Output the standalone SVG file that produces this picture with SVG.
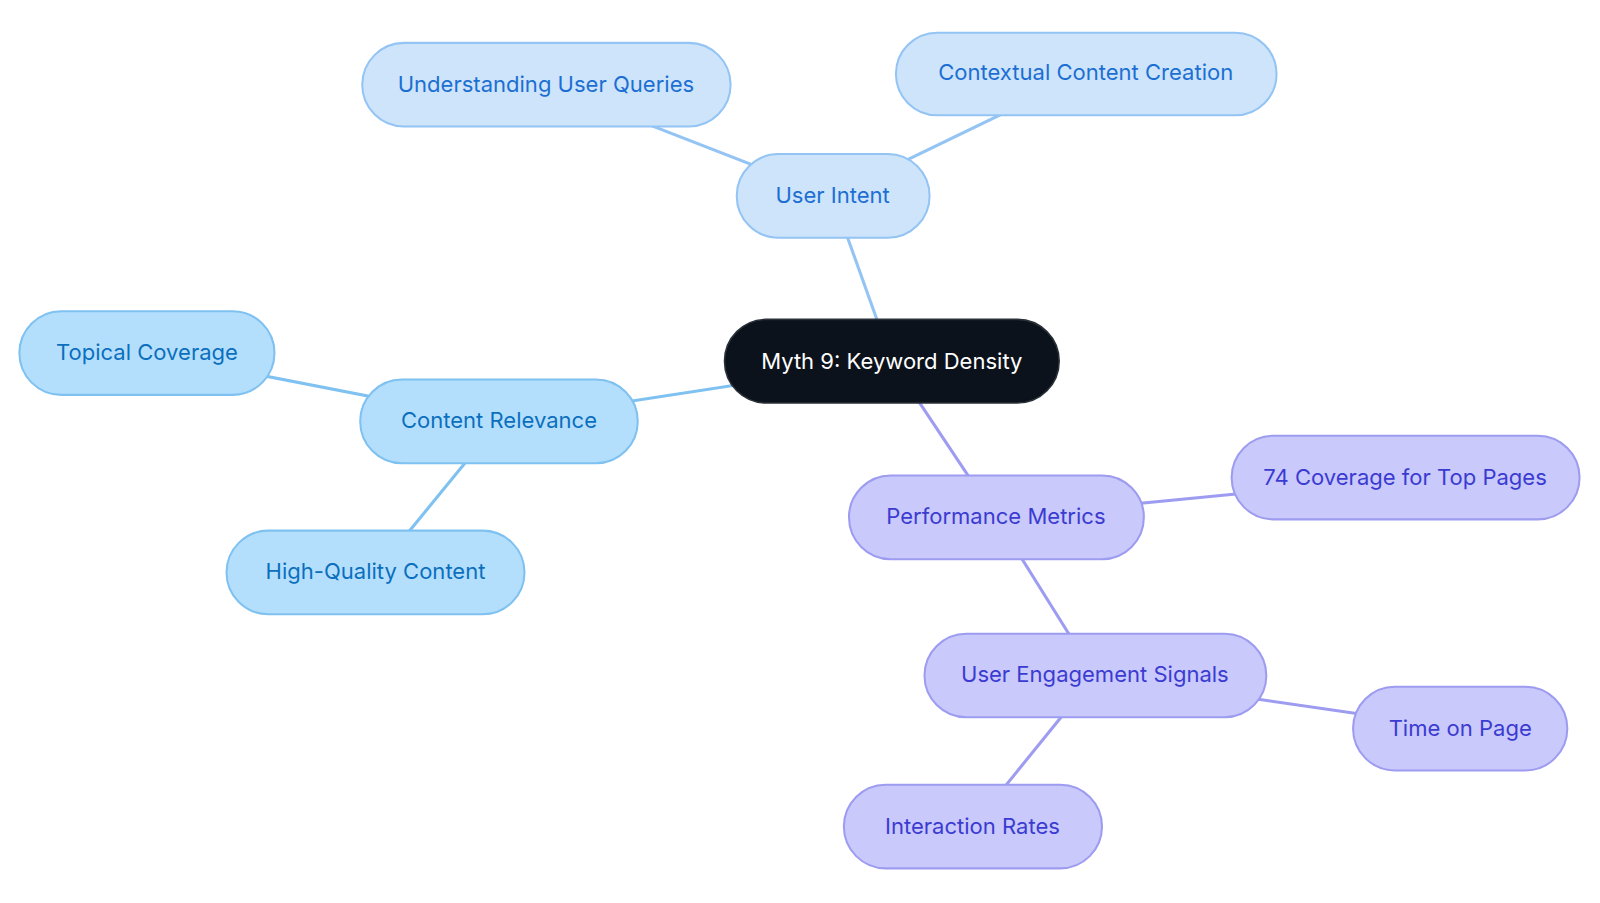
<svg xmlns="http://www.w3.org/2000/svg" width="1600" height="903" viewBox="0 0 1600 903">
<style>
text{font-family:Inter,"Noto Sans","Liberation Sans",sans-serif;font-size:21.6px;text-anchor:middle;dominant-baseline:central}
.a rect{fill:#cde4fb;stroke:#93c4f4;stroke-width:2}
.a text{fill:#1c6fd2}
.b rect{fill:#b4dffc;stroke:#7fc1f0;stroke-width:2}
.b text{fill:#0b6fbe}
.c rect{fill:#c9c9fb;stroke:#9d9cf1;stroke-width:2}
.c text{fill:#3b3bd2}
.la{stroke:#93c4f4;stroke-width:3}
.lb{stroke:#7fc1f0;stroke-width:3}
.lc{stroke:#9d9cf1;stroke-width:3}
</style>
<rect width="1600" height="903" fill="#ffffff"/>
<g transform="scale(1.0204)">
<g id="connectors">
<line class="la" x1="874" y1="354" x2="816" y2="192"/>
<line class="la" x1="816" y1="192" x2="535" y2="83"/>
<line class="la" x1="816" y1="192" x2="1064" y2="72"/>
<line class="lb" x1="874" y1="354" x2="489" y2="413"/>
<line class="lb" x1="489" y1="413" x2="144" y2="346"/>
<line class="lb" x1="489" y1="413" x2="368" y2="561"/>
<line class="lc" x1="874" y1="354" x2="976" y2="507"/>
<line class="lc" x1="976" y1="507" x2="1377" y2="468"/>
<line class="lc" x1="976" y1="507" x2="1073" y2="662"/>
<line class="lc" x1="1073" y1="662" x2="1431" y2="714"/>
<line class="lc" x1="1073" y1="662" x2="953" y2="810"/>
</g>
<g id="center">
<rect x="710" y="313" width="328" height="82" rx="41" fill="#0c121b" stroke="#2a3038" stroke-width="1.5"/>
<text x="874" y="354" fill="#ffffff">Myth 9: Keyword Density</text>
</g>
<g id="user-intent" class="a">
<rect x="722" y="151" width="189" height="82" rx="41"/>
<text x="816" y="191">User Intent</text>
</g>
<g id="understanding-user-queries" class="a">
<rect x="355" y="42" width="361" height="82" rx="41"/>
<text x="535" y="82">Understanding User Queries</text>
</g>
<g id="contextual-content-creation" class="a">
<rect x="878" y="32" width="373" height="81" rx="40.5"/>
<text x="1064" y="71">Contextual Content Creation</text>
</g>
<g id="content-relevance" class="b">
<rect x="353" y="372" width="272" height="82" rx="41"/>
<text x="489" y="412">Content Relevance</text>
</g>
<g id="topical-coverage" class="b">
<rect x="19" y="305" width="250" height="82" rx="41"/>
<text x="144" y="345">Topical Coverage</text>
</g>
<g id="high-quality-content" class="b">
<rect x="222" y="520" width="292" height="82" rx="41"/>
<text x="368" y="560">High-Quality Content</text>
</g>
<g id="performance-metrics" class="c">
<rect x="832" y="466" width="289" height="82" rx="41"/>
<text x="976" y="506">Performance Metrics</text>
</g>
<g id="coverage-top-pages" class="c">
<rect x="1207" y="427" width="341" height="82" rx="41"/>
<text x="1377" y="467">74 Coverage for Top Pages</text>
</g>
<g id="user-engagement-signals" class="c">
<rect x="906" y="621" width="335" height="82" rx="41"/>
<text x="1073" y="661">User Engagement Signals</text>
</g>
<g id="time-on-page" class="c">
<rect x="1326" y="673" width="210" height="82" rx="41"/>
<text x="1431" y="713">Time on Page</text>
</g>
<g id="interaction-rates" class="c">
<rect x="827" y="769" width="253" height="82" rx="41"/>
<text x="953" y="809">Interaction Rates</text>
</g>
</g>
</svg>
